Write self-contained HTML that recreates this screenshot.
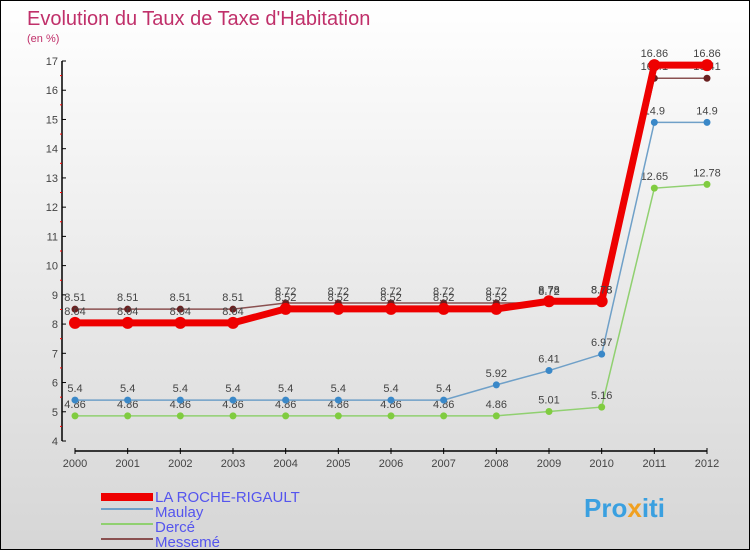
<!DOCTYPE html>
<html><head><meta charset="utf-8"><style>
body{margin:0}
#c{width:748px;height:548px;border:1px solid #000;background:linear-gradient(#fff,#d6d6d6);position:relative;font-family:"Liberation Sans",sans-serif}
</style></head><body>
<div id="c">
<svg id="s" width="748" height="548" style="position:absolute;left:0;top:0">
<text x="26" y="24" font-size="20" fill="#c0306a">Evolution du Taux de Taxe d'Habitation</text>
<text x="26" y="41" font-size="11" fill="#c0306a">(en %)</text>
<rect x="100" y="492" width="52" height="8" fill="#e00"/>
<line x1="100" y1="508" x2="152" y2="508" stroke="#6fa0c8" stroke-width="2"/>
<line x1="100" y1="523" x2="152" y2="523" stroke="#90d070" stroke-width="2"/>
<line x1="100" y1="538" x2="152" y2="538" stroke="#8a5050" stroke-width="2"/>
<g font-size="15" fill="#5555ee">
<text x="154" y="501">LA ROCHE-RIGAULT</text>
<text x="154" y="516">Maulay</text>
<text x="154" y="531">Dercé</text>
<text x="154" y="546">Messemé</text>
</g>
<text x="583" y="516" font-size="26" font-weight="bold" fill="#3aa0e0">Pro<tspan fill="#f0a020">x</tspan>iti</text>
</svg>
</div>
<script>
const years=[2000,2001,2002,2003,2004,2005,2006,2007,2008,2009,2010,2011,2012];
const yTicks=[4,5,6,7,8,9,10,11,12,13,14,15,16,17];
const laRoche=[8.04,8.04,8.04,8.04,8.52,8.52,8.52,8.52,8.52,8.78,8.78,16.86,16.86];
const maulay=[5.4,5.4,5.4,5.4,5.4,5.4,5.4,5.4,5.92,6.41,6.97,14.9,14.9];
const derce=[4.86,4.86,4.86,4.86,4.86,4.86,4.86,4.86,4.86,5.01,5.16,12.65,12.78];
const messeme=[8.51,8.51,8.51,8.51,8.72,8.72,8.72,8.72,8.72,8.72,8.78,16.41,16.41];
const s=document.getElementById('s'),NS='http://www.w3.org/2000/svg';
const X=i=>74+i*(632/12), Y=v=>440-(v-4)*(380/13);
function mk(t,a,p){const e=document.createElementNS(NS,t);for(const k in a)e.setAttribute(k,a[k]);(p||s).appendChild(e);return e;}
const ax=mk('g',{});


mk('line',{x1:61,y1:Y(17),x2:61,y2:Y(4),stroke:'#000','stroke-width':1.5},ax);
mk('line',{x1:X(0),y1:450,x2:X(12),y2:450,stroke:'#000','stroke-width':1.5},ax);
yTicks.forEach(v=>{mk('line',{x1:61,y1:Y(v),x2:65,y2:Y(v),stroke:'#000'},ax);
 if(v<17)mk('line',{x1:59,y1:Y(v+0.5),x2:61,y2:Y(v+0.5),stroke:'#f00'},ax);
 const t=mk('text',{x:57,y:Y(v)+4,'font-size':11,fill:'#444','text-anchor':'end'},ax);t.textContent=v;
 
 });
years.forEach((y,i)=>{mk('line',{x1:X(i),y1:447,x2:X(i),y2:453,stroke:'#000'},ax);
 const t=mk('text',{x:X(i),y:466,'font-size':11,fill:'#444','text-anchor':'middle'},ax);t.textContent=y;
 
 });
function series(d,name,col,dot,w,r){const g=mk('g',{});
 
 
 mk('polyline',{points:d.map((v,i)=>X(i)+','+Y(v)).join(' '),fill:'none',stroke:col,'stroke-width':w},g);
 d.forEach((v,i)=>{const c=mk('circle',{cx:X(i),cy:Y(v),r:r,fill:dot},g);
  
  
  const t=mk('text',{x:X(i),y:Y(v)-8,'font-size':11,fill:'#444','text-anchor':'middle'},g);t.textContent=v;
  
  });}
series(derce,'derce-series','#90d070','#80cc40',1.5,3.5);
series(maulay,'maulay-series','#6fa0c8','#3a88c8',1.5,3.5);
series(messeme,'messeme-series','#8a5050','#6a2020',1.5,3.5);
series(laRoche,'la-roche-series','#e00','#e00',7,6);
</script>
</body></html>
